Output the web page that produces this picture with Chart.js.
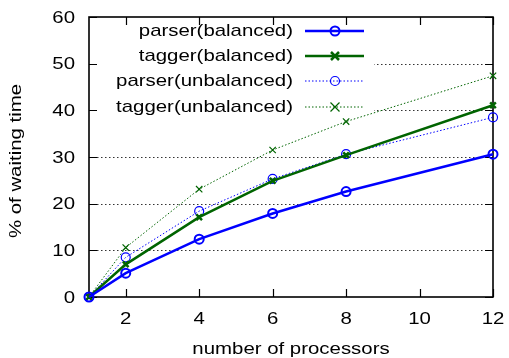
<!DOCTYPE html>
<html>
<head>
<meta charset="utf-8">
<script src="https://cdn.jsdelivr.net/npm/chart.js@4.4.1/dist/chart.umd.min.js"></script>
<style>
  html, body { margin: 0; padding: 0; background: #ffffff; }
  #wrap { width: 509px; height: 358px; }
</style>
</head>
<body>
<div id="wrap"><canvas id="waitChart" width="509" height="358"></canvas></div>
<script>
// data
const processors = [1, 2, 4, 6, 8, 12];
const parserBalanced = [0, 5.1, 12.4, 17.9, 22.6, 30.6];
const taggerBalanced = [0, 7.0, 17.1, 24.9, 30.4, 41.1];
const parserUnbalanced = [0, 8.5, 18.4, 25.3, 30.6, 38.5];
const taggerUnbalanced = [0, 10.6, 23.1, 31.5, 37.6, 47.4];
const seriesNames = ["parser(balanced)", "tagger(balanced)", "parser(unbalanced)", "tagger(unbalanced)"];
const xTicks = [2, 4, 6, 8, 10, 12];
const yTicks = [0, 10, 20, 30, 40, 50, 60];
const xTitle = "number of processors";
const yTitle = "% of waiting time";

const FONT = "17px 'Liberation Sans', Arial, sans-serif";
const STRETCH = 1.2;
const BLUE = "#0000ff";
const GREEN = "#006400";

function toPoints(values) {
  return processors.map(function (p, i) {
    return { x: p, y: values[i] };
  });
}

// text is a bit wider than a plain sans face, so stretch it sideways
function drawText(ctx, text, x, y, align, angle) {
  ctx.save();
  ctx.translate(x, y);
  if (angle) ctx.rotate(angle);
  ctx.scale(STRETCH, 1);
  ctx.font = FONT;
  ctx.fillStyle = "#000000";
  ctx.textAlign = align;
  ctx.textBaseline = "middle";
  ctx.fillText(text, 0, 0);
  ctx.restore();
}

function drawMarker(ctx, style, x, y, r, color, width) {
  ctx.save();
  ctx.strokeStyle = color;
  ctx.lineWidth = width;
  ctx.setLineDash([]);
  ctx.beginPath();
  if (style === "circle") {
    ctx.arc(x, y, r, 0, Math.PI * 2);
  } else {
    ctx.moveTo(x - r, y - r);
    ctx.lineTo(x + r, y + r);
    ctx.moveTo(x + r, y - r);
    ctx.lineTo(x - r, y + r);
  }
  ctx.stroke();
  ctx.restore();
}

// gnuplot style frame, dotted grid, inward ticks
const framePlugin = {
  id: "framePlugin",
  beforeDatasetsDraw: function (chart) {
    const ctx = chart.ctx;
    const area = chart.chartArea;
    const xs = chart.scales.x;
    const ys = chart.scales.y;

    ctx.save();
    ctx.strokeStyle = "#333333";
    ctx.lineWidth = 1;
    ctx.setLineDash([1.5, 2.5]);
    yTicks.forEach(function (v) {
      if (v === 0 || v === 60) return;
      const py = Math.round(ys.getPixelForValue(v)) + 0.5;
      ctx.beginPath();
      ctx.moveTo(area.left, py);
      ctx.lineTo(area.right, py);
      ctx.stroke();
    });
    ctx.restore();

    // opaque key box
    ctx.save();
    ctx.fillStyle = "#ffffff";
    ctx.fillRect(area.left + 1, area.top + 1, 373 - area.left, 120 - area.top);
    ctx.restore();

    ctx.save();
    ctx.strokeStyle = "#000000";
    ctx.lineWidth = 1.6;
    ctx.setLineDash([]);
    ctx.strokeRect(area.left, area.top, area.right - area.left, area.bottom - area.top);
    ctx.lineWidth = 1.2;
    const tl = 8;
    xTicks.forEach(function (v) {
      const px = Math.round(xs.getPixelForValue(v)) + 0.5;
      ctx.beginPath();
      ctx.moveTo(px, area.bottom);
      ctx.lineTo(px, area.bottom - tl);
      ctx.moveTo(px, area.top);
      ctx.lineTo(px, area.top + tl);
      ctx.stroke();
    });
    yTicks.forEach(function (v) {
      const py = Math.round(ys.getPixelForValue(v)) + 0.5;
      ctx.beginPath();
      ctx.moveTo(area.left, py);
      ctx.lineTo(area.left + tl, py);
      ctx.moveTo(area.right, py);
      ctx.lineTo(area.right - tl, py);
      ctx.stroke();
    });
    ctx.restore();
  },
  afterDraw: function (chart) {
    const ctx = chart.ctx;
    const xs = chart.scales.x;
    const ys = chart.scales.y;

    yTicks.forEach(function (v) {
      drawText(ctx, String(v), 75, ys.getPixelForValue(v) + 1, "right");
    });
    xTicks.forEach(function (v) {
      drawText(ctx, String(v), xs.getPixelForValue(v), 319, "center");
    });
    drawText(ctx, xTitle, 291, 349, "center");
    drawText(ctx, yTitle, 16, 161, "center", -Math.PI / 2);

    // key
    const rows = [31, 56, 81, 107];
    chart.data.datasets.forEach(function (ds, i) {
      const y = rows[i];
      drawText(ctx, seriesNames[i], 293, y, "right");
      ctx.save();
      ctx.strokeStyle = ds.borderColor;
      ctx.lineWidth = ds.borderWidth;
      ctx.setLineDash(ds.borderDash || []);
      ctx.beginPath();
      ctx.moveTo(305, y);
      ctx.lineTo(364, y);
      ctx.stroke();
      ctx.restore();
      drawMarker(ctx, ds.pointStyle, 335, y, ds.pointRadius, ds.borderColor, ds.pointBorderWidth);
    });
  }
};

const datasets = [
  {
    label: seriesNames[0],
    data: toPoints(parserBalanced),
    borderColor: BLUE,
    borderWidth: 2.5,
    pointStyle: "circle",
    pointRadius: 4.5,
    pointBorderWidth: 2,
    pointBackgroundColor: "rgba(0,0,0,0)",
    pointBorderColor: BLUE
  },
  {
    label: seriesNames[1],
    data: toPoints(taggerBalanced),
    borderColor: GREEN,
    borderWidth: 2.5,
    pointStyle: "crossRot",
    pointRadius: 4,
    pointBorderWidth: 2.5,
    pointBorderColor: GREEN
  },
  {
    label: seriesNames[2],
    data: toPoints(parserUnbalanced),
    borderColor: BLUE,
    borderWidth: 1,
    borderDash: [1.5, 2],
    pointStyle: "circle",
    pointRadius: 4.5,
    pointBorderWidth: 1.2,
    pointBackgroundColor: "rgba(0,0,0,0)",
    pointBorderColor: BLUE
  },
  {
    label: seriesNames[3],
    data: toPoints(taggerUnbalanced),
    borderColor: GREEN,
    borderWidth: 1,
    borderDash: [1.5, 2],
    pointStyle: "crossRot",
    pointRadius: 4.5,
    pointBorderWidth: 1.2,
    pointBorderColor: GREEN
  }
];

const ctx = document.getElementById("waitChart").getContext("2d");
const waitChart = new Chart(ctx, {
  type: "line",
  data: { datasets: datasets.map(function (d) {
    return Object.assign({ fill: false, tension: 0, clip: false }, d);
  }) },
  options: {
    responsive: false,
    devicePixelRatio: 1,
    animation: false,
    layout: { padding: { left: 89, right: 16, top: 17, bottom: 61 } },
    plugins: { legend: { display: false }, tooltip: { enabled: false } },
    scales: {
      x: { type: "linear", display: false, min: 1, max: 12 },
      y: { type: "linear", display: false, min: 0, max: 60 }
    }
  },
  plugins: [framePlugin]
});
</script>
</body>
</html>
